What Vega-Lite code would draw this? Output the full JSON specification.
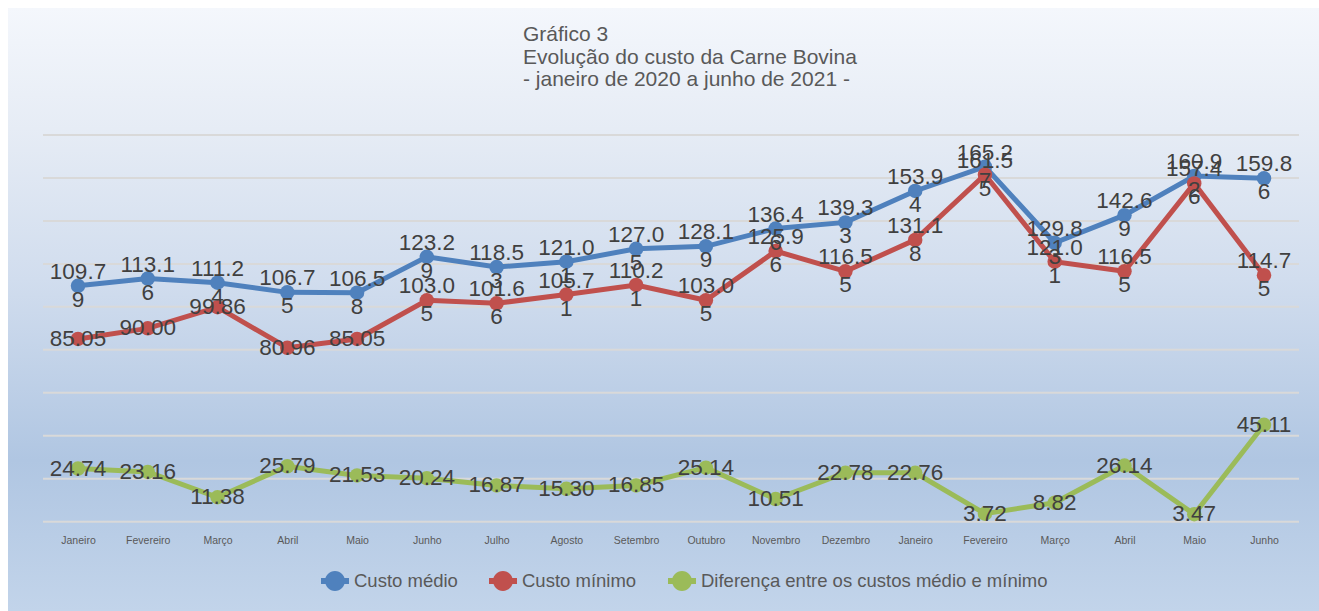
{
  "$schema": "https://vega.github.io/schema/vega-lite/v6.json",
  "width": 1311,
  "height": 603,
  "autosize": {"type": "none"},
  "padding": {"left": 8, "top": 8, "right": 0, "bottom": 0},
  "background": "#ffffff",
  "config": {
    "view": {
      "stroke": null,
      "fill": {"gradient": "linear", "x1": 0, "y1": 0, "x2": 0, "y2": 1, "stops": [{"offset": 0, "color": "#f4f7fc"}, {"offset": 0.2, "color": "#e6ecf5"}, {"offset": 0.45, "color": "#d1ddee"}, {"offset": 0.75, "color": "#b0c6e2"}, {"offset": 1, "color": "#c2d4ea"}]}
    },
    "font": "Liberation Sans"
  },
  "title": {
    "text": ["Gráfico 3", "Evolução do custo da Carne Bovina", "- janeiro de 2020 a junho de 2021 -"],
    "anchor": "start",
    "frame": "group",
    "dx": 515,
    "dy": 82,
    "offset": 0,
    "fontSize": 21,
    "fontWeight": "normal",
    "color": "#595959",
    "font": "Liberation Sans",
    "lineHeight": 22.5
  },
  "datasets": {
    "custos": [
      {"mes": "Janeiro 2020", "serie": "Custo médio", "valor": 109.79},
      {"mes": "Fevereiro 2020", "serie": "Custo médio", "valor": 113.16},
      {"mes": "Março 2020", "serie": "Custo médio", "valor": 111.24},
      {"mes": "Abril 2020", "serie": "Custo médio", "valor": 106.75},
      {"mes": "Maio 2020", "serie": "Custo médio", "valor": 106.58},
      {"mes": "Junho 2020", "serie": "Custo médio", "valor": 123.29},
      {"mes": "Julho 2020", "serie": "Custo médio", "valor": 118.53},
      {"mes": "Agosto 2020", "serie": "Custo médio", "valor": 121.01},
      {"mes": "Setembro 2020", "serie": "Custo médio", "valor": 127.05},
      {"mes": "Outubro 2020", "serie": "Custo médio", "valor": 128.19},
      {"mes": "Novembro 2020", "serie": "Custo médio", "valor": 136.46},
      {"mes": "Dezembro 2020", "serie": "Custo médio", "valor": 139.33},
      {"mes": "Janeiro 2021", "serie": "Custo médio", "valor": 153.94},
      {"mes": "Fevereiro 2021", "serie": "Custo médio", "valor": 165.27},
      {"mes": "Março 2021", "serie": "Custo médio", "valor": 129.83},
      {"mes": "Abril 2021", "serie": "Custo médio", "valor": 142.69},
      {"mes": "Maio 2021", "serie": "Custo médio", "valor": 160.92},
      {"mes": "Junho 2021", "serie": "Custo médio", "valor": 159.86},
      {"mes": "Janeiro 2020", "serie": "Custo mínimo", "valor": 85.05},
      {"mes": "Fevereiro 2020", "serie": "Custo mínimo", "valor": 90.00},
      {"mes": "Março 2020", "serie": "Custo mínimo", "valor": 99.86},
      {"mes": "Abril 2020", "serie": "Custo mínimo", "valor": 80.96},
      {"mes": "Maio 2020", "serie": "Custo mínimo", "valor": 85.05},
      {"mes": "Junho 2020", "serie": "Custo mínimo", "valor": 103.05},
      {"mes": "Julho 2020", "serie": "Custo mínimo", "valor": 101.66},
      {"mes": "Agosto 2020", "serie": "Custo mínimo", "valor": 105.71},
      {"mes": "Setembro 2020", "serie": "Custo mínimo", "valor": 110.21},
      {"mes": "Outubro 2020", "serie": "Custo mínimo", "valor": 103.05},
      {"mes": "Novembro 2020", "serie": "Custo mínimo", "valor": 125.96},
      {"mes": "Dezembro 2020", "serie": "Custo mínimo", "valor": 116.55},
      {"mes": "Janeiro 2021", "serie": "Custo mínimo", "valor": 131.18},
      {"mes": "Fevereiro 2021", "serie": "Custo mínimo", "valor": 161.55},
      {"mes": "Março 2021", "serie": "Custo mínimo", "valor": 121.01},
      {"mes": "Abril 2021", "serie": "Custo mínimo", "valor": 116.55},
      {"mes": "Maio 2021", "serie": "Custo mínimo", "valor": 157.46},
      {"mes": "Junho 2021", "serie": "Custo mínimo", "valor": 114.75},
      {"mes": "Janeiro 2020", "serie": "Diferença entre os custos médio e mínimo", "valor": 24.74},
      {"mes": "Fevereiro 2020", "serie": "Diferença entre os custos médio e mínimo", "valor": 23.16},
      {"mes": "Março 2020", "serie": "Diferença entre os custos médio e mínimo", "valor": 11.38},
      {"mes": "Abril 2020", "serie": "Diferença entre os custos médio e mínimo", "valor": 25.79},
      {"mes": "Maio 2020", "serie": "Diferença entre os custos médio e mínimo", "valor": 21.53},
      {"mes": "Junho 2020", "serie": "Diferença entre os custos médio e mínimo", "valor": 20.24},
      {"mes": "Julho 2020", "serie": "Diferença entre os custos médio e mínimo", "valor": 16.87},
      {"mes": "Agosto 2020", "serie": "Diferença entre os custos médio e mínimo", "valor": 15.30},
      {"mes": "Setembro 2020", "serie": "Diferença entre os custos médio e mínimo", "valor": 16.85},
      {"mes": "Outubro 2020", "serie": "Diferença entre os custos médio e mínimo", "valor": 25.14},
      {"mes": "Novembro 2020", "serie": "Diferença entre os custos médio e mínimo", "valor": 10.51},
      {"mes": "Dezembro 2020", "serie": "Diferença entre os custos médio e mínimo", "valor": 22.78},
      {"mes": "Janeiro 2021", "serie": "Diferença entre os custos médio e mínimo", "valor": 22.76},
      {"mes": "Fevereiro 2021", "serie": "Diferença entre os custos médio e mínimo", "valor": 3.72},
      {"mes": "Março 2021", "serie": "Diferença entre os custos médio e mínimo", "valor": 8.82},
      {"mes": "Abril 2021", "serie": "Diferença entre os custos médio e mínimo", "valor": 26.14},
      {"mes": "Maio 2021", "serie": "Diferença entre os custos médio e mínimo", "valor": 3.47},
      {"mes": "Junho 2021", "serie": "Diferença entre os custos médio e mínimo", "valor": 45.11}
    ],
    "grade": [
      {"v": 0}, {"v": 20}, {"v": 40}, {"v": 60}, {"v": 80}, {"v": 100}, {"v": 120}, {"v": 140}, {"v": 160}, {"v": 180}
    ]
  },
  "encoding": {
    "x": {
      "field": "mes",
      "type": "nominal",
      "scale": {
        "type": "point",
        "padding": 0,
        "range": [70, 1256],
        "domain": ["Janeiro 2020", "Fevereiro 2020", "Março 2020", "Abril 2020", "Maio 2020", "Junho 2020", "Julho 2020", "Agosto 2020", "Setembro 2020", "Outubro 2020", "Novembro 2020", "Dezembro 2020", "Janeiro 2021", "Fevereiro 2021", "Março 2021", "Abril 2021", "Maio 2021", "Junho 2021"]
      },
      "axis": {
        "orient": "bottom",
        "offset": -76,
        "domain": false,
        "ticks": false,
        "grid": false,
        "title": null,
        "labelAngle": 0,
        "labelPadding": 0,
        "labelFontSize": 10.5,
        "labelColor": "#595959",
        "labelFont": "Liberation Sans",
        "labelOverlap": false,
        "labelBound": false,
        "labelExpr": "split(datum.label, ' ')[0]"
      }
    },
    "y": {
      "field": "valor",
      "type": "quantitative",
      "scale": {"domain": [-41.57, 239.12], "nice": false, "zero": false},
      "axis": null
    }
  },
  "layer": [
    {
      "data": {"name": "grade"},
      "mark": {"type": "rule", "color": "#d9d9d9", "strokeWidth": 2, "xOffset": -35, "x2Offset": 35},
      "encoding": {
        "x": {"datum": "Janeiro 2020", "type": "nominal"},
        "x2": {"datum": "Junho 2021"},
        "y": {"field": "v", "type": "quantitative"}
      }
    },
    {
      "data": {"name": "custos"},
      "mark": {"type": "line", "strokeWidth": 5, "point": {"filled": true, "size": 210, "opacity": 1}},
      "encoding": {
        "color": {
          "field": "serie",
          "type": "nominal",
          "scale": {
            "domain": ["Custo médio", "Custo mínimo", "Diferença entre os custos médio e mínimo"],
            "range": ["#4f81bd", "#c0504d", "#9bbb59"]
          },
          "legend": {
            "orient": "none",
            "legendX": 313,
            "legendY": 559,
            "direction": "horizontal",
            "title": null,
            "symbolType": "M-1,-0.21H1V0.21H-1Z M-0.71,0A0.71,0.71,0,1,1,0.71,0A0.71,0.71,0,1,1,-0.71,0Z",
            "symbolSize": 784,
            "symbolStrokeWidth": 0,
            "labelFontSize": 18.5,
            "labelColor": "#595959",
            "labelFont": "Liberation Sans",
            "labelOffset": 5,
            "columnPadding": 31,
            "labelLimit": 600,
            "encode": {
              "symbols": {
                "update": {
                  "fill": {"scale": "color", "field": "value"},
                  "stroke": {"scale": "color", "field": "value"},
                  "strokeWidth": {"value": 0},
                  "opacity": {"value": 1}
                }
              }
            }
          }
        }
      }
    },
    {
      "data": {"name": "custos"},
      "transform": [
        {"calculate": "format(datum.valor, '.2f')", "as": "s"},
        {"filter": "length(datum.s) <= 5"}
      ],
      "mark": {"type": "text", "fontSize": 22.5, "font": "Liberation Sans", "color": "#404040", "baseline": "middle", "align": "center"},
      "encoding": {
        "text": {"field": "s", "type": "nominal"}
      }
    },
    {
      "data": {"name": "custos"},
      "transform": [
        {"calculate": "format(datum.valor, '.2f')", "as": "s"},
        {"filter": "length(datum.s) > 5"},
        {"calculate": "slice(datum.s, 0, 5) + '\\n' + slice(datum.s, 5)", "as": "rotulo"}
      ],
      "mark": {"type": "text", "fontSize": 22.5, "font": "Liberation Sans", "color": "#404040", "baseline": "middle", "align": "center", "lineHeight": 28, "lineBreak": "\n", "dy": -14},
      "encoding": {
        "text": {"field": "rotulo", "type": "nominal"}
      }
    }
  ]
}
